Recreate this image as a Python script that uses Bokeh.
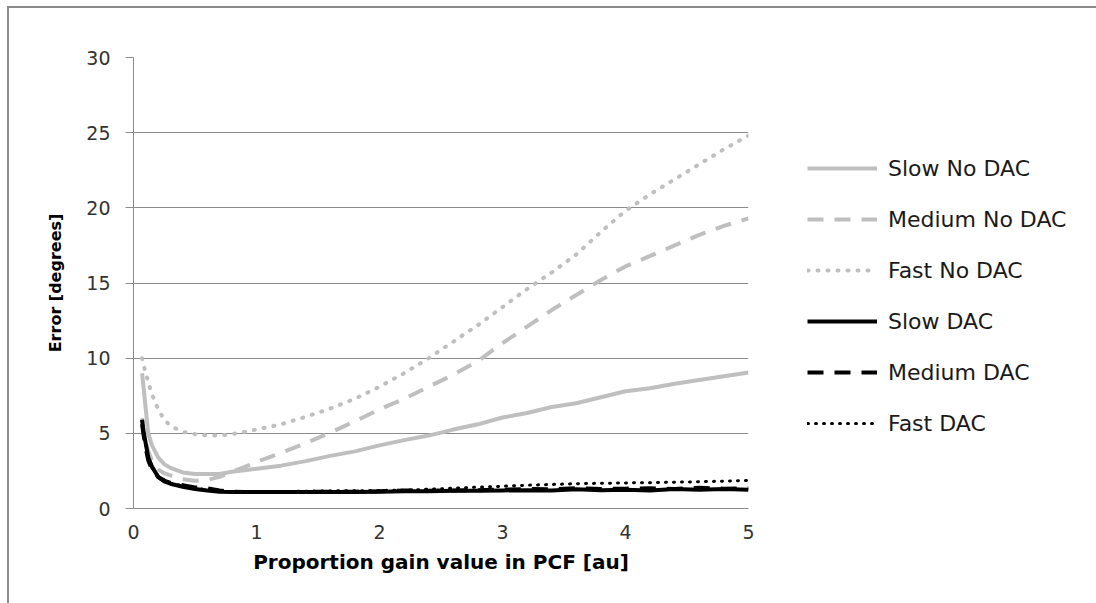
from bokeh.plotting import figure
from bokeh.models import Legend, LegendItem, Range1d, FixedTicker
from bokeh.embed import file_html
from bokeh.resources import INLINE

# ---- data ----
gain = [0.07, 0.08, 0.1, 0.12, 0.15, 0.2, 0.25, 0.3, 0.4, 0.5, 0.6, 0.7, 0.8, 0.9,
        1.0, 1.2, 1.4, 1.6, 1.8, 2.0, 2.2, 2.4, 2.6, 2.8, 3.0, 3.2, 3.4, 3.6, 3.8,
        4.0, 4.2, 4.4, 4.6, 4.8, 5.0]

slow_no_dac = [9.0, 8.2, 6.6, 5.0, 4.2, 3.4, 2.95, 2.7, 2.4, 2.3, 2.3, 2.3, 2.45, 2.55,
               2.65, 2.85, 3.15, 3.5, 3.8, 4.2, 4.55, 4.85, 5.25, 5.6, 6.05, 6.35, 6.75,
               7.0, 7.4, 7.8, 8.0, 8.3, 8.55, 8.8, 9.05]

medium_no_dac = [6.0, 5.3, 4.5, 3.8, 3.2, 2.6, 2.35, 2.2, 1.95, 1.85, 1.9, 2.1, 2.45, 2.75,
                 3.1, 3.7, 4.35, 5.05, 5.8, 6.6, 7.3, 8.1, 8.9, 9.8, 11.0, 12.1, 13.2,
                 14.2, 15.2, 16.1, 16.8, 17.5, 18.2, 18.8, 19.3]

fast_no_dac = [10.0, 9.6, 9.0, 8.4, 7.6, 6.6, 5.9, 5.5, 5.1, 4.95, 4.85, 4.85, 4.95, 5.1,
               5.25, 5.6, 6.1, 6.65, 7.3, 8.1, 9.0, 10.0, 11.1, 12.2, 13.4, 14.6, 15.7,
               16.9, 18.4, 19.8, 20.9, 21.9, 22.9, 23.9, 24.8]

slow_dac = [5.9, 5.2, 4.3, 3.4, 2.8, 2.1, 1.8, 1.65, 1.45, 1.3, 1.2, 1.12, 1.1, 1.1,
            1.1, 1.1, 1.1, 1.1, 1.1, 1.12, 1.15, 1.15, 1.18, 1.18, 1.2, 1.22, 1.2,
            1.28, 1.22, 1.25, 1.2, 1.3, 1.25, 1.3, 1.25]

medium_dac = [5.6, 5.0, 4.0, 3.2, 2.6, 2.1, 1.85, 1.7, 1.55, 1.4, 1.35, 1.2, 1.12, 1.1,
              1.1, 1.1, 1.1, 1.12, 1.12, 1.15, 1.2, 1.18, 1.2, 1.22, 1.25, 1.3, 1.28,
              1.35, 1.3, 1.32, 1.35, 1.3, 1.38, 1.32, 1.35]

fast_dac = [5.8, 5.1, 4.2, 3.3, 2.7, 2.2, 1.9, 1.7, 1.5, 1.35, 1.25, 1.15, 1.12, 1.12,
            1.12, 1.13, 1.15, 1.17, 1.18, 1.2, 1.22, 1.28, 1.35, 1.42, 1.48, 1.55, 1.6,
            1.65, 1.68, 1.7, 1.72, 1.75, 1.78, 1.82, 1.86]

series_labels = ["Slow No DAC", "Medium No DAC", "Fast No DAC",
                 "Slow DAC", "Medium DAC", "Fast DAC"]
y_ticks = [0, 5, 10, 15, 20, 25, 30]
x_ticks = [0, 1, 2, 3, 4, 5]

GRID = "#8c8c8c"
LIGHT = "#bfbfbf"

p = figure(frame_width=615, frame_height=451, output_backend="svg", toolbar_location=None,
           x_range=Range1d(0, 5), y_range=Range1d(0, 30),
           min_border_left=124, min_border_right=350,
           min_border_top=49, min_border_bottom=95)
p.styles = {"margin-left": "7px", "margin-top": "6px",
            "border-left": "2px solid #8c8c8c", "border-top": "2px solid #8c8c8c",
            "overflow": "hidden"}
p.outline_line_color = None
p.background_fill_color = "white"
p.border_fill_color = "white"

p.xgrid.visible = False
p.ygrid.grid_line_color = GRID
p.ygrid.grid_line_width = 1
p.ygrid.ticker = FixedTicker(ticks=y_ticks)

p.yaxis.ticker = FixedTicker(ticks=y_ticks)
p.xaxis.ticker = FixedTicker(ticks=x_ticks)
for ax in (p.xaxis[0], p.yaxis[0]):
    ax.axis_line_color = GRID
    ax.minor_tick_line_color = None
    ax.major_label_text_font = "DejaVu Sans"
    ax.major_label_text_font_size = "19px"
    ax.major_label_text_color = "#333333"
    ax.axis_label_text_font = "DejaVu Sans"
    ax.axis_label_text_font_style = "bold"
    ax.axis_label_text_color = "#000000"

p.yaxis.major_tick_line_color = GRID
p.yaxis.major_tick_out = 8
p.yaxis.major_tick_in = 0
p.yaxis.major_label_standoff = 15
p.yaxis.axis_label = "Error [degrees]"
p.yaxis.axis_label_text_font_size = "16px"
p.yaxis.axis_label_standoff = 18

p.xaxis.major_tick_line_color = None
p.xaxis.major_tick_out = 0
p.xaxis.major_tick_in = 0
p.xaxis.major_label_standoff = 16
p.xaxis.axis_label = "Proportion gain value in PCF [au]"
p.xaxis.axis_label_text_font_size = "20px"
p.xaxis.axis_label_standoff = 8

r1 = p.line(gain, slow_no_dac, line_color=LIGHT, line_width=4, line_join="round")
r2 = p.line(gain, medium_no_dac, line_color=LIGHT, line_width=4, line_dash="16 11")
r3 = p.line(gain, fast_no_dac, line_color=LIGHT, line_width=4, line_dash="1 9",
            line_cap="round")
r4 = p.line(gain, slow_dac, line_color="black", line_width=4, line_join="round")
r5 = p.line(gain, medium_dac, line_color="black", line_width=4, line_dash="16 11")
r6 = p.line(gain, fast_dac, line_color="black", line_width=3, line_dash="1 7",
            line_cap="round")

renderers = [r1, r2, r3, r4, r5, r6]
legend = Legend(items=[LegendItem(label=l, renderers=[r]) for l, r in zip(series_labels, renderers)],
                location=(59, 72), orientation="vertical",
                glyph_width=70, glyph_height=26, label_height=26, spacing=25,
                label_standoff=11, padding=0, margin=0,
                border_line_color=None, background_fill_alpha=0,
                label_text_font="DejaVu Sans", label_text_font_size="22px",
                label_text_color="#1a1a1a", label_width=190)
p.add_layout(legend, "right")

open("out.html", "w").write(file_html(p, INLINE))
